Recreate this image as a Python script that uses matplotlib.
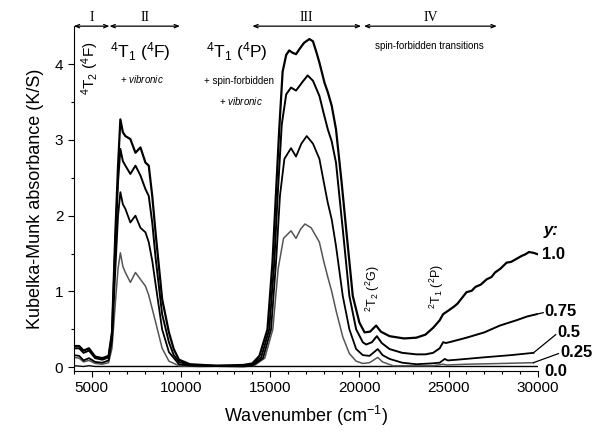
import matplotlib
matplotlib.use("Agg")
import matplotlib.pyplot as plt

plt.rcParams['font.family'] = ['Liberation Sans', 'DejaVu Sans']
plt.rcParams['mathtext.fontset'] = 'custom'
plt.rcParams['mathtext.rm'] = 'Liberation Sans'
plt.rcParams['mathtext.it'] = 'Liberation Sans:italic'
plt.rcParams['mathtext.bf'] = 'Liberation Sans:bold'
plt.rcParams['mathtext.default'] = 'regular'

# ---------------- data ----------------
wn_y100 = [4000, 4300, 4550, 4850, 5200, 5600, 5950, 6140, 6330, 6480, 6610, 6750, 6890, 7170,
           7455, 7735, 8015, 8200, 8400, 8580, 8950, 9330, 9600, 9890, 10500, 12000, 13500, 14000,
           14400, 14850, 15130, 15320, 15510, 15700, 15900, 16070, 16250, 16450, 16650, 16900,
           17200, 17400, 17600, 17760, 18050, 18230, 18450, 18690, 19000, 19260, 19630, 20000,
           20290, 20600, 20940, 21200, 21690, 22500, 23190, 23700, 24130, 24500, 24690, 25000,
           25300, 25500, 25800, 26000, 26300, 26500, 26800, 27130, 27400, 27600, 27900, 28250,
           28500, 28800, 29100, 29300, 29500, 29750, 30000]
ka_y100 = [0.28, 0.28, 0.22, 0.25, 0.14, 0.12, 0.15, 0.46, 1.78, 2.66, 3.27, 3.10, 3.05, 3.01,
           2.83, 2.90, 2.70, 2.66, 2.25, 1.78, 0.90, 0.46, 0.24, 0.10, 0.04, 0.02, 0.03, 0.05,
           0.15, 0.50, 1.38, 2.26, 3.14, 3.90, 4.12, 4.18, 4.15, 4.13, 4.20, 4.28,
           4.33, 4.30, 4.15, 4.02, 3.75, 3.63, 3.45, 3.14, 2.45, 1.82, 0.94, 0.59,
           0.46, 0.47, 0.55, 0.47, 0.41, 0.38, 0.39, 0.43, 0.52, 0.62, 0.70, 0.75,
           0.80, 0.84, 0.93, 0.99, 1.01, 1.06, 1.09, 1.16, 1.19, 1.25, 1.30, 1.38,
           1.39, 1.43, 1.47, 1.49, 1.52, 1.51, 1.49]

wn_y075 = [4000, 4300, 4550, 4850, 5200, 5600, 5950, 6140, 6330, 6480, 6610, 6750, 6890, 7170,
           7455, 7735, 8015, 8200, 8400, 8580, 8950, 9330, 9600, 9890, 10500, 12000, 13500, 14000,
           14500, 14950, 15230, 15420, 15650, 15900, 16170, 16450, 16800, 17100, 17400, 17760,
           18000, 18230, 18450, 18690, 19070, 19440, 19820, 20190, 20380, 20700, 20980, 21250,
           21690, 22400, 23190, 23700, 24130, 24500, 24690, 24850, 25200, 26000, 27000, 27870,
           28800, 29400, 29940]
ka_y075 = [0.25, 0.25, 0.19, 0.22, 0.12, 0.10, 0.13, 0.43, 1.65, 2.45, 2.88, 2.72, 2.66, 2.55,
           2.66, 2.53, 2.35, 2.26, 1.90, 1.45, 0.70, 0.33, 0.16, 0.07, 0.03, 0.02, 0.02, 0.04,
           0.13, 0.50, 1.38, 2.26, 3.20, 3.60, 3.69, 3.65, 3.76, 3.85, 3.78, 3.58,
           3.35, 3.14, 2.98, 2.70, 1.82, 0.94, 0.50, 0.33, 0.30, 0.33, 0.41, 0.32,
           0.24, 0.19, 0.17, 0.17, 0.19, 0.25, 0.33, 0.32, 0.34, 0.39, 0.46, 0.55,
           0.62, 0.67, 0.70]

wn_y050 = [4000, 4300, 4550, 4850, 5200, 5600, 5950, 6140, 6330, 6480, 6610, 6750, 6890, 7170,
           7455, 7735, 8015, 8200, 8400, 8580, 8950, 9330, 9890, 10500, 13500, 14000, 14600,
           15050, 15330, 15550, 15800, 16170, 16450, 16750, 17050, 17400, 17760, 18000, 18230,
           18450, 18690, 19070, 19440, 19820, 20190, 20570, 21030, 21300, 21690, 22400, 23190,
           24000, 24500, 24780, 24950, 25500, 26940, 28500, 29750]
ka_y050 = [0.16, 0.15, 0.09, 0.12, 0.07, 0.06, 0.09, 0.35, 1.30, 2.00, 2.31, 2.15, 2.09, 1.91,
           2.00, 1.84, 1.78, 1.65, 1.40, 1.10, 0.50, 0.20, 0.04, 0.02, 0.01, 0.02, 0.12,
           0.50, 1.38, 2.26, 2.75, 2.89, 2.78, 2.95, 3.05, 2.95, 2.75, 2.45, 2.17,
           1.95, 1.60, 0.94, 0.50, 0.24, 0.16, 0.15, 0.24, 0.16, 0.11, 0.06, 0.04,
           0.05, 0.06, 0.11, 0.09, 0.10, 0.13, 0.16, 0.19]

wn_y025 = [4000, 4300, 4550, 4850, 5200, 5600, 5950, 6140, 6330, 6480, 6610, 6750, 6890, 7170,
           7455, 7735, 8015, 8200, 8580, 8950, 9330, 9890, 11000, 14100, 14700, 15150, 15450,
           15750, 16170, 16450, 16700, 16950, 17300, 17760, 18000, 18230, 18450, 18690, 19070,
           19440, 19820, 20190, 20570, 21030, 21300, 21880, 24130, 24690, 24900, 26000, 28000,
           29750]
ka_y025 = [0.13, 0.12, 0.07, 0.09, 0.05, 0.04, 0.06, 0.25, 0.85, 1.30, 1.51, 1.33, 1.25, 1.12,
           1.25, 1.16, 1.07, 0.95, 0.60, 0.25, 0.08, 0.02, 0.01, 0.02, 0.12, 0.50, 1.30,
           1.70, 1.80, 1.70, 1.82, 1.89, 1.84, 1.65, 1.40, 1.19, 1.00, 0.75, 0.40,
           0.18, 0.08, 0.05, 0.06, 0.13, 0.07, 0.02, 0.02, 0.04, 0.03, 0.04, 0.05,
           0.06]

wn_y000 = [4000, 4550, 4850, 5200, 10000, 20000, 30000]
ka_y000 = [0.02, 0.01, 0.02, 0.01, 0.01, 0.01, 0.01]

series_labels = ["1.0", "0.75", "0.5", "0.25", "0.0"]
x_ticks = [5000, 10000, 15000, 20000, 25000, 30000]
y_ticks = [0, 1, 2, 3, 4]

regions = ["I", "II", "III", "IV"]
region_start = [4000, 6000, 14000, 20250]
region_end = [6000, 9950, 20100, 27700]

# ---------------- figure ----------------
fig = plt.figure(figsize=(5.95, 4.36), dpi=100)
ax = fig.add_axes([0.124, 0.149, 0.780, 0.791])

ax.plot(wn_y000, ka_y000, color='black', lw=1.0)
ax.plot(wn_y025, ka_y025, color='#555555', lw=1.1)
ax.plot(wn_y050, ka_y050, color='black', lw=1.3)
ax.plot(wn_y075, ka_y075, color='black', lw=1.4)
ax.plot(wn_y100, ka_y100, color='black', lw=1.6)

ax.set_xlim(4000, 30000)
ax.set_ylim(-0.05, 4.5)
ax.set_xticks(x_ticks)
ax.set_xticks(range(4000, 30001, 1000), minor=True)
ax.set_yticks(y_ticks)
ax.set_yticks([0.5, 1.5, 2.5, 3.5], minor=True)
ax.tick_params(axis='both', which='major', labelsize=11, length=4, width=0.8, direction='out')
ax.tick_params(axis='both', which='minor', length=2.5, width=0.8, direction='out')
for s in ['top', 'right']:
    ax.spines[s].set_visible(False)

ax.set_xlabel("Wavenumber (cm$^{-1}$)", fontsize=13, labelpad=6)
ax.set_ylabel("Kubelka-Munk absorbance (K/S)", fontsize=13, labelpad=8)

# region brackets
for name, a, b in zip(regions, region_start, region_end):
    ax.annotate("", xy=(a, 4.5), xytext=(b, 4.5), xycoords='data', annotation_clip=False,
                arrowprops=dict(arrowstyle='<->,head_length=0.3,head_width=0.12', lw=0.9,
                                color='black', shrinkA=0, shrinkB=0))
    ax.text((a + b) / 2, 4.53, name, ha='center', va='bottom', fontsize=10,
            family='Liberation Serif', clip_on=False)

# band annotations
ax.text(4900, 3.95, "$^4$T$_2$ ($^4$F)", rotation=90, ha='center', va='center', fontsize=11)
ax.text(7750, 4.17, "$^4$T$_1$ ($^4$F)", ha='center', va='center', fontsize=12.5)
ax.text(7810, 3.80, "+ $\\it{vibronic}$", ha='center', va='center', fontsize=7)
ax.text(13150, 4.17, "$^4$T$_1$ ($^4$P)", ha='center', va='center', fontsize=12.5)
ax.text(13260, 3.78, "+ spin-forbidden", ha='center', va='center', fontsize=7)
ax.text(13370, 3.51, "+ $\\it{vibronic}$", ha='center', va='center', fontsize=7)
ax.text(23940, 4.24, "spin-forbidden transitions", ha='center', va='center', fontsize=7)
ax.text(20740, 1.03, "$^2$T$_2$ ($^2$G)", rotation=90, ha='center', va='center', fontsize=9)
ax.text(24330, 1.06, "$^2$T$_1$ ($^2$P)", rotation=90, ha='center', va='center', fontsize=9)

# series labels
ax.text(30350, 1.80, "y:", fontsize=12, fontweight='bold', style='italic', va='center',
        clip_on=False)
label_x = [30250, 30350, 31100, 31250, 30350]
label_y = [1.49, 0.73, 0.46, 0.20, -0.05]
for lab, lx, ly in zip(series_labels, label_x, label_y):
    ax.text(lx, ly, lab, fontsize=12, fontweight='bold', va='center', ha='left', clip_on=False)
# leader lines
ax.plot([29750, 31000], [ka_y050[-1], 0.43], color='black', lw=0.9, clip_on=False)
ax.plot([29750, 31150], [ka_y025[-1], 0.18], color='black', lw=0.9, clip_on=False)
ax.plot([29940, 30300], [ka_y075[-1], 0.72], color='black', lw=0.9, clip_on=False)

fig.savefig("out.png", dpi=100)
